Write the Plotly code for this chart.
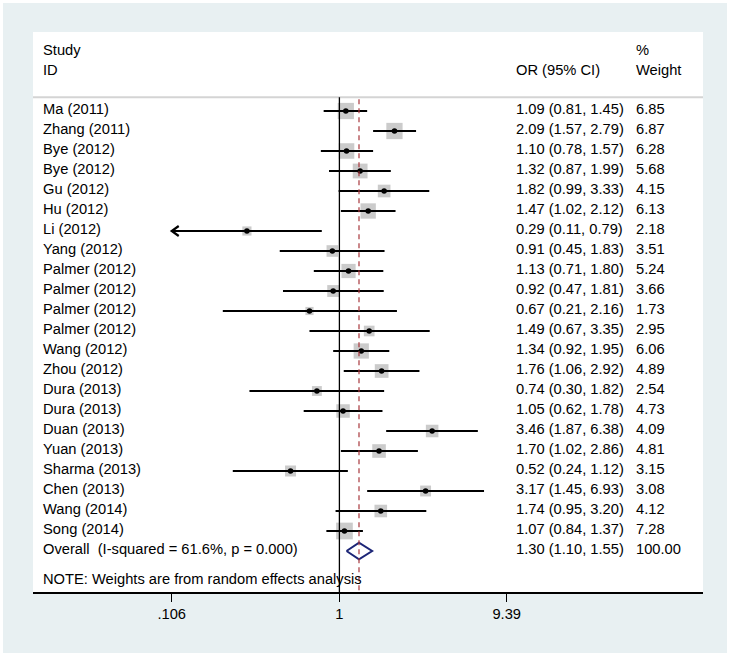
import math
import plotly.graph_objects as go

# ---------------- data ----------------
studies = ["Ma (2011)", "Zhang (2011)", "Bye (2012)", "Bye (2012)", "Gu (2012)", "Hu (2012)",
           "Li (2012)", "Yang (2012)", "Palmer (2012)", "Palmer (2012)", "Palmer (2012)",
           "Palmer (2012)", "Wang (2012)", "Zhou (2012)", "Dura (2013)", "Dura (2013)",
           "Duan (2013)", "Yuan (2013)", "Sharma (2013)", "Chen (2013)", "Wang (2014)", "Song (2014)"]
odds_ratio = [1.09, 2.09, 1.10, 1.32, 1.82, 1.47, 0.29, 0.91, 1.13, 0.92, 0.67, 1.49, 1.34, 1.76,
              0.74, 1.05, 3.46, 1.70, 0.52, 3.17, 1.74, 1.07]
ci_low = [0.81, 1.57, 0.78, 0.87, 0.99, 1.02, 0.106, 0.45, 0.71, 0.47, 0.21, 0.67, 0.92, 1.06,
          0.30, 0.62, 1.87, 1.02, 0.24, 1.45, 0.95, 0.84]
ci_high = [1.45, 2.79, 1.57, 1.99, 3.33, 2.12, 0.79, 1.83, 1.80, 1.81, 2.16, 3.35, 1.95, 2.92,
           1.82, 1.78, 6.38, 2.86, 1.12, 6.93, 3.20, 1.37]
weights = [6.85, 6.87, 6.28, 5.68, 4.15, 6.13, 2.18, 3.51, 5.24, 3.66, 1.73, 2.95, 6.06, 4.89,
           2.54, 4.73, 4.09, 4.81, 3.15, 3.08, 4.12, 7.28]
overall_or = 1.30
overall_low = 1.10
overall_high = 1.55
overall_weight = 100.00
i_squared = 61.6
p_value = 0.000
tick_values = [0.106, 1, 9.39]
tick_labels = [".106", "1", "9.39"]

# ---------------- style ----------------
FONT = "Liberation Sans, Arial, sans-serif"
FS = 14.7
TXT = "#000000"
OUTER = "#e8f0f2"
SQUARE = "#b5b5b5"
NAVY = "#1c2577"
RED = "#a8383c"
X_MIN_TICK = tick_values[0]

n = len(studies)
rows = list(range(n))
overall_row = n
note_row = n + 1.5
txt_dy = -0.1

fig = go.Figure()

# CI lines (clipped at axis min with arrow)
lx, ly = [], []
arrow_x, arrow_y = [], []
for i in rows:
    lo = max(ci_low[i], X_MIN_TICK)
    lx += [lo, ci_high[i], None]
    ly += [i, i, None]
    if ci_low[i] <= X_MIN_TICK:
        back = math.exp(math.log(X_MIN_TICK) + 7 / 74.7)
        arrow_x += [back, X_MIN_TICK, back, None]
        arrow_y += [i - 0.25, i, i + 0.25, None]

# weighted squares
fig.add_trace(go.Scatter(
    x=odds_ratio, y=rows, mode="markers",
    marker=dict(symbol="square", color=SQUARE, size=[6.2 * math.sqrt(w) for w in weights],
                line=dict(width=0)),
    hoverinfo="skip", showlegend=False))
fig.add_trace(go.Scatter(x=lx, y=ly, mode="lines", line=dict(color="black", width=2),
                         hoverinfo="skip", showlegend=False))
fig.add_trace(go.Scatter(x=arrow_x, y=arrow_y, mode="lines", line=dict(color="black", width=2.2),
                         hoverinfo="skip", showlegend=False))
fig.add_trace(go.Scatter(
    x=odds_ratio, y=rows, mode="markers",
    marker=dict(symbol="circle", color="black", size=5.5),
    hoverinfo="skip", showlegend=False))

# overall diamond
h = 0.42
fig.add_trace(go.Scatter(
    x=[overall_low, overall_or, overall_high, overall_or, overall_low],
    y=[overall_row, overall_row - h, overall_row, overall_row + h, overall_row],
    mode="lines", line=dict(color=NAVY, width=2), hoverinfo="skip", showlegend=False))

sep_y = -0.685
bottom_y = 24.05
top_y = -3.95

shapes = [
    # outer bluish background with thin white border
    dict(type="rect", xref="paper", yref="paper", x0=-0.0448, x1=1.0358, y0=-0.1089, y1=1.0518,
         fillcolor=OUTER, line=dict(width=0), layer="below"),
    # white panel
    dict(type="rect", xref="paper", yref="paper", x0=0, x1=1, y0=0, y1=1,
         fillcolor="white", line=dict(width=0), layer="below"),
    # header separator
    dict(type="line", xref="paper", yref="y", x0=0, x1=1, y0=sep_y, y1=sep_y,
         line=dict(color="#d4d4d4", width=2)),
    # null line
    dict(type="line", xref="x", yref="y", x0=1, x1=1, y0=sep_y, y1=bottom_y,
         line=dict(color="black", width=1.3)),
    # overall dashed line
    dict(type="line", xref="x", yref="y", x0=overall_or, x1=overall_or, y0=sep_y + 0.1, y1=bottom_y,
         line=dict(color=RED, width=1.2, dash="5px,4px")),
]

ann = []
def text(x, y, s):
    ann.append(dict(x=x, y=y + txt_dy, xref="paper", yref="y", text=s, showarrow=False,
                    xanchor="left", yanchor="middle", font=dict(family=FONT, size=FS, color=TXT)))

X_STUDY, X_OR, X_W = 0.0112, 0.7179, 0.8977
text(X_STUDY, -2.935, "Study")
text(X_STUDY, -1.935, "ID")
text(X_OR, -1.935, "OR (95% CI)")
text(X_W, -2.935, "%")
text(X_W, -1.935, "Weight")
for i in rows:
    text(X_STUDY, i, studies[i])
    text(X_OR, i, f"{odds_ratio[i]:.2f} ({ci_low[i]:.2f}, {ci_high[i]:.2f})")
    text(X_W, i, f"{weights[i]:.2f}")
text(X_STUDY, overall_row,
     f"Overall\u00a0\u00a0(I-squared = {i_squared:.1f}%, p = {p_value:.3f})")
text(X_OR, overall_row, f"{overall_or:.2f} ({overall_low:.2f}, {overall_high:.2f})")
text(X_W, overall_row, f"{overall_weight:.2f}")
text(X_STUDY, note_row, "NOTE: Weights are from random effects analysis")

fig.update_layout(
    width=731, height=657,
    margin=dict(l=33, r=28, t=32, b=65),
    paper_bgcolor="white", plot_bgcolor="white",
    shapes=shapes, annotations=ann,
    xaxis=dict(type="log", range=[-1.7811, 2.1136], tickvals=tick_values, ticktext=tick_labels,
               showgrid=False, zeroline=False, showline=True, linecolor="black", linewidth=1.5,
               ticks="outside", ticklen=8, tickwidth=1.5, tickcolor="black",
               tickfont=dict(family=FONT, size=FS, color=TXT), fixedrange=True),
    yaxis=dict(range=[bottom_y, top_y], visible=False, fixedrange=True),
    font=dict(family=FONT, size=FS, color=TXT),
)

fig.write_html("out.html", config={"displayModeBar": False, "staticPlot": True},
               post_script="document.body.style.margin='0';document.body.style.padding='0';")
